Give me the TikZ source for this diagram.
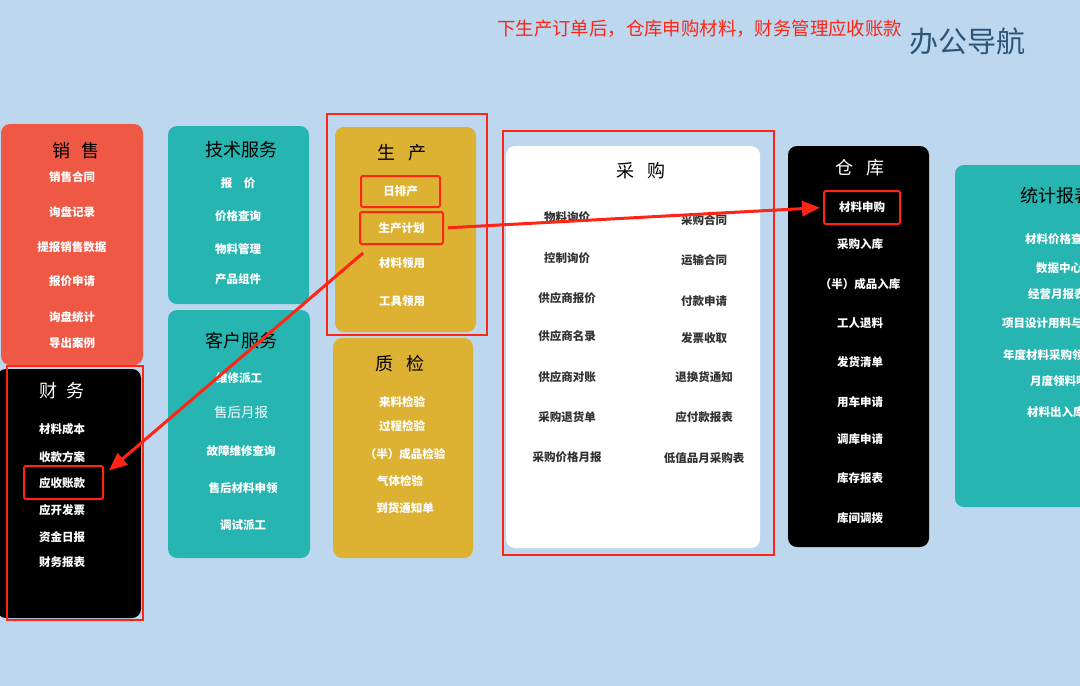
\documentclass[tikz,border=0pt]{standalone}
\usepackage{fontspec}
\setmainfont{Noto Sans CJK SC}
\usetikzlibrary{arrows.meta}

\definecolor{bgblue}{RGB}{189,215,238}
\definecolor{salesred}{RGB}{238,88,68}
\definecolor{tealbox}{RGB}{38,181,176}
\definecolor{goldbox}{RGB}{221,178,51}
\definecolor{hlred}{RGB}{255,36,20}
\definecolor{navy}{RGB}{46,84,120}
\definecolor{txtgray}{RGB}{51,51,51}

\tikzset{
  panel/.style={rounded corners=9pt},
  head/.style={font=\fontsize{18}{20}\selectfont, inner sep=0pt},
  item/.style={font=\bfseries\fontsize{11.5}{13}\selectfont, text=white, inner sep=0pt},
  pitem/.style={item, text=txtgray},
  frame/.style={draw=hlred, line width=2pt},
  hlbox/.style={draw=hlred, line width=2pt, rounded corners=1.5pt, inner sep=0pt},
  redarrow/.style={hlred, line width=3pt, -{Triangle[length=18pt,width=15pt]}}
}

\begin{document}
\begin{tikzpicture}[x=1pt,y=-1pt]
  % Canvas
  \useasboundingbox (0,0) rectangle (1080,686);
  \clip (0,0) rectangle (1080,686);
  \fill[bgblue] (0,0) rectangle (1080,686);

  % Heading
  \node[anchor=west, text=hlred, font=\fontsize{18.4}{20}\selectfont, inner sep=0pt] (note) at (497,29) {下生产订单后，仓库申购材料，财务管理应收账款};
  \node[anchor=west, text=navy, font=\fontsize{29}{30}\selectfont, inner sep=0pt] (brand) at (909,41) {办公导航};

  % Sales
  \fill[salesred, panel] (1,124) rectangle (143,365);
  \node[head] (sales) at (76,151) {销\hspace{0.6em}售};
  \foreach \t/\y [count=\i] in {销售合同/177, 询盘记录/212, 提报销售数据/247, 报价申请/281, 询盘统计/317, 导出案例/343}
    \node[item] (s\i) at (72,\y) {\t};

  % Finance
  \fill[black, panel] (-3,369) rectangle (141,618);
  \draw[frame] (7,366) rectangle (143,620);
  \node[head, text=white] (finance) at (62,391) {财\hspace{0.5em}务};
  \foreach \t/\y [count=\i] in {材料成本/429, 收款方案/457, 应收账款/483, 应开发票/510, 资金日报/537, 财务报表/562}
    \node[item, anchor=west] (f\i) at (39,\y) {\t};
  \node[hlbox, minimum width=79pt, minimum height=33pt] (arbox) at (63.5,482.5) {};

  % Technical service
  \fill[tealbox, panel] (168,126) rectangle (309,304);
  \node[head] (tech) at (241,150) {技术服务};
  \foreach \t/\y [count=\i] in {报　价/183, 价格查询/216, 物料管理/249, 产品组件/279}
    \node[item] (t\i) at (238,\y) {\t};

  % Customer service
  \fill[tealbox, panel] (168,310) rectangle (310,558);
  \node[head] (cust) at (241,341) {客户服务};
  \node[item] (c1) at (239,378) {维修派工};
  \node[item, font=\fontsize{13.5}{15}\selectfont] (c2) at (241,412) {售后月报};
  \node[item] (c3) at (241,451) {故障维修查询};
  \node[item] (c4) at (243,488) {售后材料申领};
  \node[item] (c5) at (243,525) {调试派工};

  % Production
  \fill[goldbox, panel] (335,127) rectangle (476,332);
  \draw[frame] (327,114) rectangle (487,335);
  \node[head] (prod) at (402,153) {生\hspace{0.7em}产};
  \node[item, hlbox, minimum width=79pt, minimum height=31pt] (daily) at (400.5,191.5) {日排产};
  \node[item, hlbox, minimum width=83pt, minimum height=32pt] (plan) at (401.5,228) {生产计划};
  \node[item] (p3) at (402,263) {材料领用};
  \node[item] (p4) at (402,301) {工具领用};

  % Quality check
  \fill[goldbox, panel] (333,338) rectangle (473,558);
  \node[head] (qc) at (400,364) {质\hspace{0.7em}检};
  \node[item] (q1) at (402,402) {来料检验};
  \node[item] (q2) at (402,426) {过程检验};
  \node[item] (q3) at (405,454) {（半）成品检验};
  \node[item] (q4) at (400,481) {气体检验};
  \node[item] (q5) at (405,508) {到货通知单};

  % Purchasing
  \draw[frame] (503,131) rectangle (774,555);
  \fill[white, panel] (506,146) rectangle (760,548);
  \node[head] (buy) at (641,171) {采\hspace{0.7em}购};
  \foreach \t/\y [count=\i] in {物料询价/217, 控制询价/258, 供应商报价/298, 供应商名录/336, 供应商对账/377, 采购退货单/417, 采购价格月报/457}
    \node[pitem] (bl\i) at (567,\y) {\t};
  \foreach \t/\y [count=\i] in {采购合同/220, 运输合同/260, 付款申请/301, 发票收取/338, 退换货通知/377, 应付款报表/417, 低值品月采购表/458}
    \node[pitem] (br\i) at (704,\y) {\t};

  % Warehouse
  \fill[black, panel] (788,146) rectangle (929,547);
  \node[head, text=white] (store) at (860,168) {仓\hspace{0.7em}库};
  \node[item, hlbox, minimum width=76pt, minimum height=33pt] (apply) at (862,207.5) {材料申购};
  \foreach \t/\y [count=\i] in {采购入库/244, （半）成品入库/284, 工人退料/323, 发货清单/362, 用车申请/402, 调库申请/439, 库存报表/478, 库间调拨/518}
    \node[item] (w\i) at (860,\y) {\t};

  % Statistics (cut off at the right edge)
  \fill[tealbox, panel] (955,165) rectangle (1100,507);
  \node[head, anchor=west] (stats) at (1020,196) {统计报表};
  \foreach \t/\x/\y [count=\i] in {材料价格查/1025/239, 数据中心/1036/268, 经营月报表/1028/294, 项目设计用料与/1002/323, 年度材料采购领/1003/355, 月度领料明/1030/381, 材料出入库/1027/412}
    \node[item, anchor=west] (r\i) at (\x,\y) {\t};

  % Flow arrows
  \draw[redarrow, shorten <=4pt, shorten >=3pt] (plan.east) -- (apply.west);
  \draw[redarrow] ([shift={(4,8)}]plan.south west) -- ([shift={(5,-12)}]arbox.east);
\end{tikzpicture}
\end{document}
